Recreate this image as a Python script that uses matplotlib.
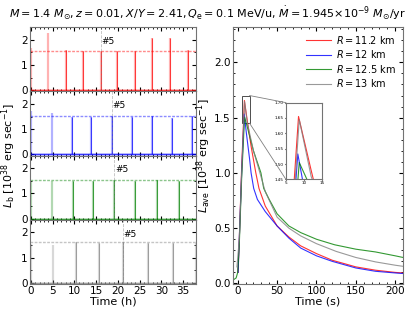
import numpy as np
import matplotlib
matplotlib.use('Agg')
import matplotlib.pyplot as plt
from matplotlib.patches import Rectangle, ConnectionPatch

# burst times (h) and peak luminosities (1e38 erg/s) for each radius
red_t = [0.0, 3.85, 8.1, 12.0, 16.0, 19.9, 23.9, 27.9, 32.0, 36.2]
red_L = [1.66, 2.26, 1.6, 1.54, 1.55, 1.54, 1.56, 2.05, 2.08, 1.6]
blue_t = [0.0, 4.84, 9.4, 13.9, 18.7, 23.2, 27.9, 32.4, 37.0]
blue_L = [1.73, 1.65, 1.49, 1.47, 1.53, 1.49, 1.52, 1.44, 1.53]
green_t = [0.0, 4.77, 9.6, 14.35, 19.2, 24.0, 28.95, 34.1]
green_L = [1.45, 1.5, 1.5, 1.5, 1.55, 1.5, 1.52, 1.5]
gray_t = [0.0, 5.1, 10.4, 15.7, 21.1, 27.0, 32.6, 38.0]
gray_L = [1.55, 1.5, 1.63, 1.58, 1.64, 1.6, 1.6, 1.6]

# averaged light curves (time in s)
ave_red_t = [0.5, 2, 5, 8.5, 12, 17, 23, 27, 35, 50, 65, 80, 100, 120, 150, 175, 200, 210]
ave_red_L = [0.1, 0.4, 1.05, 1.655, 1.48, 1.24, 1.0, 0.86, 0.70, 0.52, 0.42, 0.34, 0.27, 0.21, 0.15, 0.12, 0.10, 0.095]
ave_blue_t = [0.5, 2, 5, 8.3, 11, 15, 17, 20.3, 25, 35, 50, 65, 80, 100, 120, 150, 175, 200, 210]
ave_blue_L = [0.1, 0.4, 1.0, 1.533, 1.36, 1.13, 1.0, 0.86, 0.76, 0.65, 0.52, 0.41, 0.32, 0.25, 0.20, 0.14, 0.11, 0.095, 0.09]
ave_green_t = [-6, -2, 0, 2, 5, 8.7, 12, 20, 29.5, 33, 40, 50, 65, 80, 100, 123, 150, 175, 200, 210]
ave_green_L = [0.03, 0.05, 0.1, 0.35, 0.95, 1.505, 1.42, 1.2, 1.0, 0.86, 0.76, 0.63, 0.52, 0.46, 0.40, 0.35, 0.31, 0.285, 0.25, 0.235]
ave_gray_t = [-1, 2, 5, 8.7, 12, 20, 29, 35, 50, 65, 80, 100, 125, 150, 175, 200, 210]
ave_gray_L = [0.15, 0.4, 1.0, 1.645, 1.46, 1.2, 0.98, 0.83, 0.60, 0.50, 0.43, 0.36, 0.29, 0.235, 0.195, 0.165, 0.155]

radii = ['11.2', '12', '12.5', '13']
colors = ['red', 'blue', 'green', 'gray']

fig = plt.figure(figsize=(4.15, 3.12), dpi=100)
fig.suptitle(r'$M = 1.4\ M_{\odot}, z = 0.01, X/Y = 2.41, Q_{\rm e} = 0.1$ MeV/u, '
             r'$\dot{M} = 1.945{\times}10^{-9}\ M_{\odot}$/yr', fontsize=8, y=0.985)

left, width = 0.0723, 0.40
bottom, top = 0.0897, 0.9135
h = (top - bottom) / 4

bursts = [(red_t, red_L), (blue_t, blue_L), (green_t, green_L), (gray_t, gray_L)]
for i, (bt, bl) in enumerate(bursts):
    ax = fig.add_axes([left, top - (i + 1) * h, width, h])
    c = colors[i]
    ax.axhline(0, color=c, lw=2, alpha=0.3)
    ax.axhline(0, color=c, lw=0.6, alpha=0.8)
    ax.vlines(bt, 0, bl, color=c, lw=1.6, alpha=0.3)
    ax.vlines(bt[2:], 0, bl[2:], color=c, lw=0.6, alpha=0.8)
    ax.axhline(bl[4], color=c, lw=1.0, ls=(0, (2, 1)), alpha=0.45)
    ax.axvline(bt[4], color='gray', lw=0.6, ls='--', alpha=0.5)
    ax.text(bt[4] + 0.1, 1.75, '#5', fontsize=6.5, ha='left', va='bottom')
    ax.set_xlim(-0.25, 38)
    ax.set_ylim(-0.04, 2.5)
    ax.set_yticks([0, 1, 2])
    ax.set_yticks(np.arange(0, 2.5, 0.5), minor=True)
    ax.set_xticks(np.arange(0, 38, 5))
    ax.set_xticks(np.arange(0, 39, 1), minor=True)
    ax.tick_params(which='both', direction='in', top=True, right=True, labelsize=7.5, pad=1.5)
    ax.tick_params(which='major', length=3)
    ax.tick_params(which='minor', length=1.5)
    for s in ax.spines.values():
        s.set_color('0.45')
    if i < 3:
        ax.tick_params(labelbottom=False)
    else:
        ax.set_xlabel('Time (h)', fontsize=8, labelpad=0)

fig.text(0.022, (top + bottom) / 2, r'$L_{\rm b}$ [$10^{38}$ erg sec$^{-1}$]',
         rotation=90, ha='center', va='center', fontsize=8)

# right panel
ax2 = fig.add_axes([0.5614, bottom, 0.41, top - bottom])
curves = [(ave_red_t, ave_red_L), (ave_blue_t, ave_blue_L),
          (ave_green_t, ave_green_L), (ave_gray_t, ave_gray_L)]
for (ct, cl), c, r in zip(curves, colors, radii):
    ax2.plot(ct, cl, color=c, lw=0.8, alpha=0.8, label=r'$R = %s$ km' % r)
ax2.set_xlim(-6, 210)
ax2.set_ylim(-0.005, 2.32)
ax2.set_yticks([0, 0.5, 1.0, 1.5, 2.0])
ax2.set_yticks(np.arange(0, 2.31, 0.1), minor=True)
ax2.set_xticks([0, 50, 100, 150, 200])
ax2.set_xticks(np.arange(0, 211, 10), minor=True)
ax2.tick_params(which='both', direction='in', top=True, right=True, labelsize=7.5, pad=1.5)
ax2.tick_params(which='major', length=3)
ax2.tick_params(which='minor', length=1.5)
for s in ax2.spines.values():
    s.set_color('0.45')
ax2.set_xlabel('Time (s)', fontsize=8, labelpad=0)
ax2.set_ylabel(r'$L_{\rm ave}$ [$10^{38}$ erg sec$^{-1}$]', fontsize=8, labelpad=1)
ax2.legend(loc='upper right', fontsize=7, frameon=False, handlelength=2.5,
           handletextpad=0.6, borderaxespad=0.3, labelspacing=0.25)

# zoom inset
x1, x2, y1, y2 = 5, 15, 1.45, 1.70
axins = fig.add_axes([0.689, 0.425, 0.0867, 0.246])
for (ct, cl), c in zip(curves, colors):
    axins.plot(ct, cl, color=c, lw=0.8, alpha=0.8)
axins.set_xlim(x1, x2)
axins.set_ylim(y1, y2)
axins.set_xticks([5, 10, 15])
axins.set_yticks([1.45, 1.50, 1.55, 1.60, 1.65, 1.70])
axins.tick_params(labelsize=3, length=1, pad=0.5)
for s in axins.spines.values():
    s.set_color('0.45')
ax2.add_patch(Rectangle((x1, y1), x2 - x1, y2 - y1, fill=False, ec='0.3', lw=0.7))
for ya, yb in [(y2, y2), (y1, y1)]:
    con = ConnectionPatch(xyA=(x2, ya), coordsA=ax2.transData,
                          xyB=(x1, yb), coordsB=axins.transData,
                          color='0.5', lw=0.6)
    fig.add_artist(con)

fig.savefig('out.png', dpi=100)
